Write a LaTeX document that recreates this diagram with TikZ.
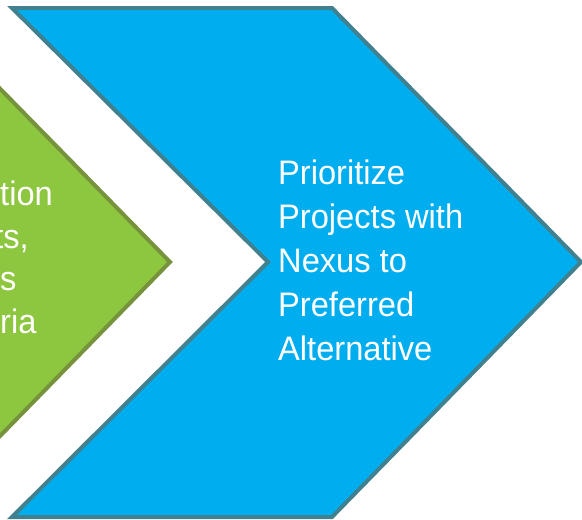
\documentclass[tikz,border=0pt]{standalone}
\usepackage{fontspec}
\setmainfont{Liberation Sans}[FakeStretch=0.96]
\definecolor{bluefill}{HTML}{00AEEF}
\definecolor{blueline}{HTML}{41808F}
\definecolor{greenfill}{HTML}{8DC63F}
\definecolor{greenline}{HTML}{76923C}

\begin{document}
\begin{tikzpicture}[x=1pt, y=-1pt,
    chevron/.style ={line width=4pt, line join=miter},
    steptext/.style ={text=white, inner sep=0pt, font=\fontsize{34}{44}\selectfont}]
   \useasboundingbox (0,0) rectangle (582,520);
   \clip (0,0) rectangle (582,520);
   \draw[chevron, fill=greenfill, draw=greenline] (-330,8) -- (-79,8) -- (170,262) -- (-79,517) -- (-330,517) -- cycle;
   \draw[chevron, fill=bluefill, draw=blueline] (12,8) -- (332,8) -- (581,262) -- (332,517) -- (12,517) -- (268,262) -- cycle;
   \node[steptext, anchor=base west] (g1) at (0,205) {tion};
   \node[steptext, anchor=base east] (g2) at (29,248) {ts,};
   \node[steptext, anchor=base west] (g3) at (0,290) {s};
   \node[steptext, anchor=base west] (g4) at (0,333) {ria};
   \node[steptext, anchor=base west] (b1) at (278,184) {Prioritize};
   \node[steptext, anchor=base west] (b2) at (278,228) {Projects with};
   \node[steptext, anchor=base west] (b3) at (278,272) {Nexus to};
   \node[steptext, anchor=base west] (b4) at (278,316) {Preferred};
   \node[steptext, anchor=base west] (b5) at (278,360) {Alternative};
 \end{tikzpicture}
\end{document}
